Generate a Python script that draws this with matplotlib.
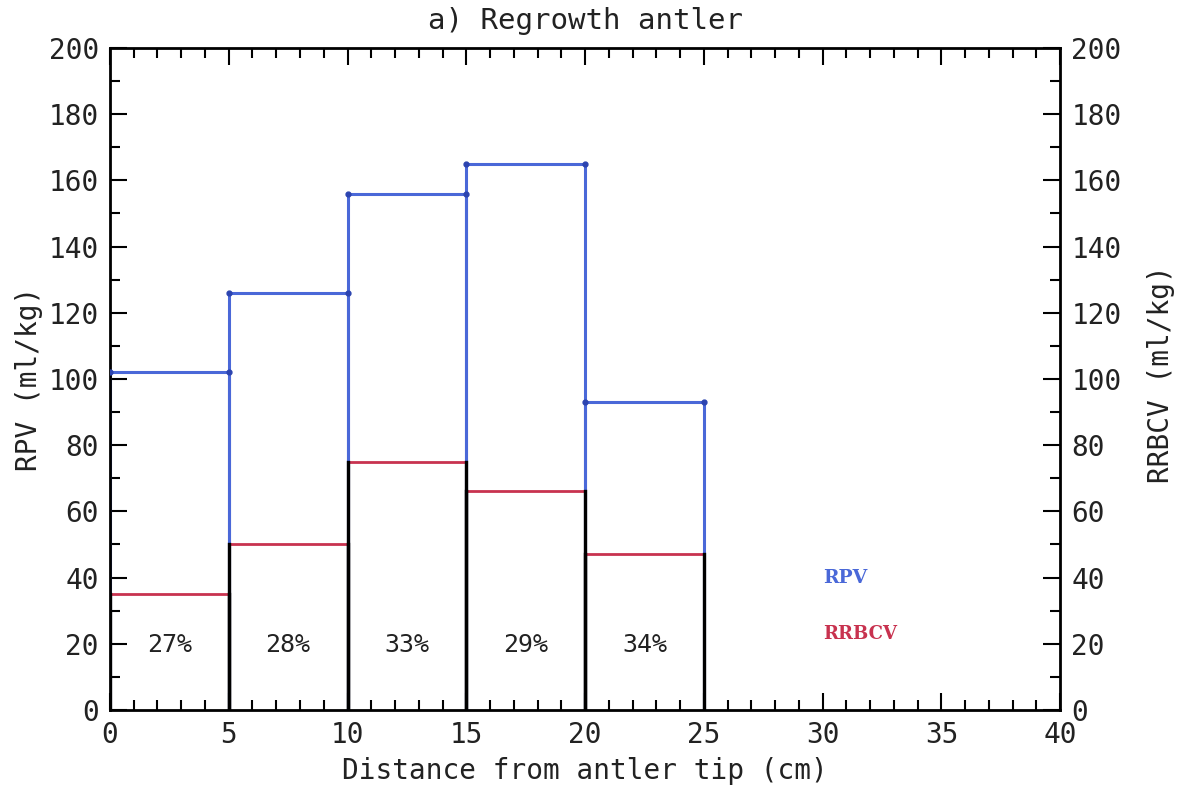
import numpy as np
import matplotlib.pyplot as plt
from matplotlib.ticker import MultipleLocator

# bins along the antler (cm from tip)
bin_edges = [0, 5, 10, 15, 20, 25]
rpv = [102, 126, 156, 165, 93]
rrbcv = [35, 50, 75, 66, 47]
pct_labels = ["27%", "28%", "33%", "29%", "34%"]

blue = "#4a68d8"
red = "#c8324f"
mono = "DejaVu Sans Mono"

fig = plt.figure(figsize=(11.82, 7.87), dpi=100)
ax = fig.add_axes([0.093, 0.098, 0.804, 0.841])

for i in range(len(rpv)):
    x0, x1 = bin_edges[i], bin_edges[i + 1]
    # RPV outline (blue) with corner dots
    ax.plot([x0, x0, x1, x1], [0, rpv[i], rpv[i], 0], color=blue, lw=2.2,
            solid_joinstyle="miter", zorder=2)
    ax.plot([x0, x1], [rpv[i], rpv[i]], "o", color="#2c44b0", ms=3.5, zorder=3)
    # RRBCV part: red top, black sides
    ax.plot([x0, x1], [rrbcv[i], rrbcv[i]], color=red, lw=2.0, zorder=3)
    ax.plot([x0, x0], [0, rrbcv[i]], color="black", lw=2.4, zorder=4)
    ax.plot([x1, x1], [0, rrbcv[i]], color="black", lw=2.4, zorder=4)
    ax.text((x0 + x1) / 2, 19.5, pct_labels[i], ha="center", va="center",
            fontsize=18, family=mono, color="#222222")

ax.text(30, 40, "RPV", color=blue, fontsize=13.5, fontweight="bold",
        family="DejaVu Serif", ha="left", va="center")
ax.text(30, 23, "RRBCV", color=red, fontsize=13, fontweight="bold",
        family="DejaVu Serif", ha="left", va="center")

ax.set_xlim(0, 40)
ax.set_ylim(0, 200)
ax.xaxis.set_major_locator(MultipleLocator(5))
ax.xaxis.set_minor_locator(MultipleLocator(1))
ax.yaxis.set_major_locator(MultipleLocator(20))
ax.yaxis.set_minor_locator(MultipleLocator(10))
ax.tick_params(which="both", direction="in", top=True, right=True,
               labelright=True, width=1.5, labelsize=20, pad=8,
               labelcolor="#222222")
ax.tick_params(which="major", length=12)
ax.tick_params(which="minor", length=7)
for lab in ax.get_xticklabels() + ax.get_yticklabels():
    lab.set_family(mono)
for s in ax.spines.values():
    s.set_linewidth(2)

ax.set_xlabel("Distance from antler tip (cm)", fontsize=20, family=mono,
              labelpad=6, color="#222222")
ax.set_ylabel("RPV (ml/kg)", fontsize=20, family=mono, labelpad=4,
              color="#222222")
fig.text(0.982, 0.525, "RRBCV (ml/kg)", rotation=90, fontsize=20,
         family=mono, ha="center", va="center", color="#222222")
ax.set_title("a) Regrowth antler", fontsize=21, family=mono, pad=14,
             color="#222222")

fig.savefig("out.png", dpi=100)
